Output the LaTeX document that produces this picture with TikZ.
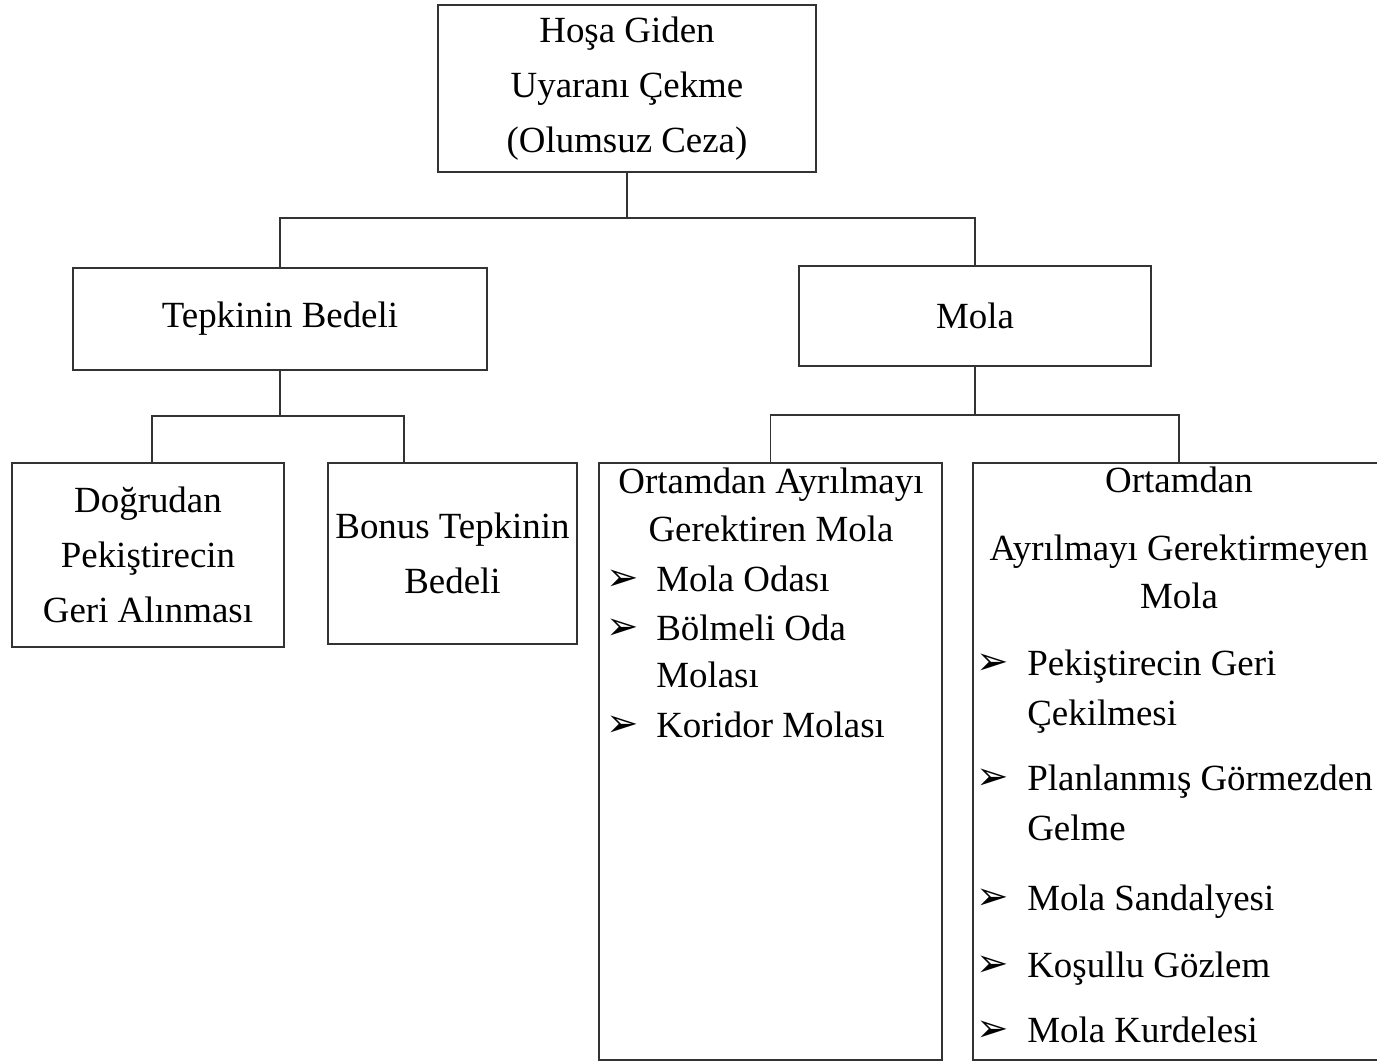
\documentclass[tikz,border=0pt]{standalone}
\usepackage{fontspec}
\setmainfont{Liberation Serif}
\newfontfamily\dejavu{DejaVu Sans}

\tikzset{
  box/.style={draw=black!80, line width=1.1pt, align=center, inner sep=0pt},
  link/.style={draw=black!80, line width=1.1pt},
  ctr/.style={anchor=base, inner sep=0pt},
  txt/.style={anchor=base west, inner sep=0pt},
  bul/.style={anchor=base west, inner sep=0pt, font=\dejavu\fontsize{22}{22}\selectfont}
}

\begin{document}
\begin{tikzpicture}[x=0.02cm,y=-0.02cm,font=\fontsize{21}{31.5}\selectfont]
  \useasboundingbox (0,0) rectangle (1377,1064);

  % Boxes
  \node[box, minimum width=7.56cm, minimum height=3.34cm] (ceza) at (627,88.5) {Hoşa Giden\\Uyaranı Çekme\\(Olumsuz Ceza)};
  \node[box, minimum width=8.28cm, minimum height=2.04cm] (bedel) at (280,319) {Tepkinin Bedeli};
  \node[box, minimum width=7.04cm, minimum height=2cm] (mola) at (975,316) {Mola};
  \node[box, minimum width=5.44cm, minimum height=3.68cm] (dogrudan) at (148,555) {Doğrudan\\Pekiştirecin\\Geri Alınması};
  \node[box, minimum width=4.98cm, minimum height=3.62cm] (bonus) at (452.5,553.5) {Bonus Tepkinin\\Bedeli};
  \node[box, minimum width=6.86cm, minimum height=11.94cm] (ayrilan) at (770.5,761.5) {};
  \node[box, minimum width=8.24cm, minimum height=11.94cm] (ayrilmayan) at (1179,761.5) {};

  % Connectors
  \coordinate (k1) at (627,218);
  \coordinate (k2) at (280,416);
  \coordinate (k3) at (975,415);
  \draw[link] (ceza.south) -- (k1);
  \draw[link] (bedel.north) |- (k1) -| (mola.north);
  \draw[link] (bedel.south) -- (k2);
  \draw[link] ([xshift=0.08cm]dogrudan.north) |- (k2) -| ([xshift=1.54cm]bonus.north west);
  \draw[link] (mola.south) -- (k3);
  \draw[link] (ayrilan.north) |- (k3) -| (ayrilmayan.north);

  % Ortamdan ayrilmayi gerektiren mola
  \node[ctr] (a1) at (771,493) {Ortamdan Ayrılmayı};
  \node[ctr] (a2) at (771,541) {Gerektiren Mola};
  \node[bul] (ab1) at (606,590) {➢};
  \node[txt] (a3) at (656,591) {Mola Odası};
  \node[bul] (ab2) at (606,639) {➢};
  \node[txt] (a4) at (656,640) {Bölmeli Oda};
  \node[txt] (a5) at (656,687) {Molası};
  \node[bul] (ab3) at (606,736) {➢};
  \node[txt] (a6) at (656,737) {Koridor Molası};

  % Ortamdan ayrilmayi gerektirmeyen mola
  \node[ctr] (m1) at (1179,492) {Ortamdan};
  \node[ctr] (m2) at (1179,560) {Ayrılmayı Gerektirmeyen};
  \node[ctr] (m3) at (1179,608) {Mola};
  \node[bul] (mb1) at (976,674) {➢};
  \node[txt] (m4) at (1027,675) {Pekiştirecin Geri};
  \node[txt] (m5) at (1027,725) {Çekilmesi};
  \node[bul] (mb2) at (976,789) {➢};
  \node[txt] (m6) at (1027,790) {Planlanmış Görmezden};
  \node[txt] (m7) at (1027,840) {Gelme};
  \node[bul] (mb3) at (976,909) {➢};
  \node[txt] (m8) at (1027,910) {Mola Sandalyesi};
  \node[bul] (mb4) at (976,976) {➢};
  \node[txt] (m9) at (1027,977) {Koşullu Gözlem};
  \node[bul] (mb5) at (976,1041) {➢};
  \node[txt] (m10) at (1027,1042) {Mola Kurdelesi};

\end{tikzpicture}
\end{document}
